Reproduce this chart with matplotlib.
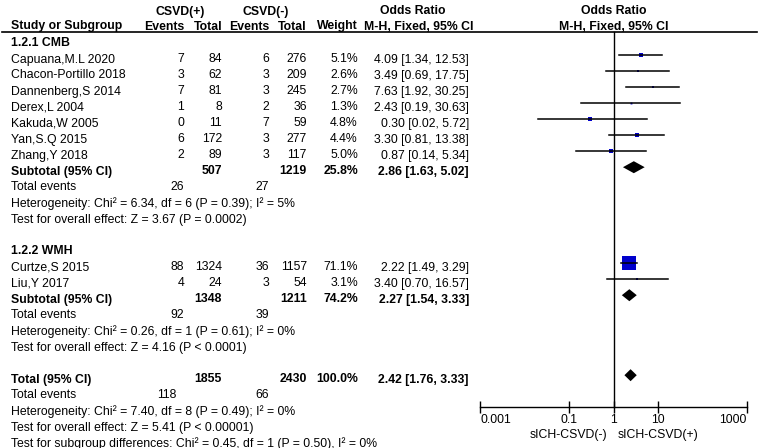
import matplotlib.pyplot as plt
from matplotlib.ticker import NullLocator

plt.rcParams['font.family'] = ['Liberation Sans', 'DejaVu Sans']

# study level data
group_names = ["1.2.1 CMB", "1.2.2 WMH"]

cmb_studies = ["Capuana,M.L 2020", "Chacon-Portillo 2018", "Dannenberg,S 2014",
               "Derex,L 2004", "Kakuda,W 2005", "Yan,S.Q 2015", "Zhang,Y 2018"]
cmb_ev_pos = [7, 3, 7, 1, 0, 6, 2]
cmb_tot_pos = [84, 62, 81, 8, 11, 172, 89]
cmb_ev_neg = [6, 3, 3, 2, 7, 3, 3]
cmb_tot_neg = [276, 209, 245, 36, 59, 277, 117]
cmb_weight = [5.1, 2.6, 2.7, 1.3, 4.8, 4.4, 5.0]
cmb_or = [4.09, 3.49, 7.63, 2.43, 0.30, 3.30, 0.87]
cmb_lo = [1.34, 0.69, 1.92, 0.19, 0.02, 0.81, 0.14]
cmb_hi = [12.53, 17.75, 30.25, 30.63, 5.72, 13.38, 5.34]

wmh_studies = ["Curtze,S 2015", "Liu,Y 2017"]
wmh_ev_pos = [88, 4]
wmh_tot_pos = [1324, 24]
wmh_ev_neg = [36, 3]
wmh_tot_neg = [1157, 54]
wmh_weight = [71.1, 3.1]
wmh_or = [2.22, 3.40]
wmh_lo = [1.49, 0.70]
wmh_hi = [3.29, 16.57]

# subtotals
sub_tot_pos = [507, 1348]
sub_tot_neg = [1219, 1211]
sub_weight = [25.8, 74.2]
sub_or = [2.86, 2.27]
sub_lo = [1.63, 1.54]
sub_hi = [5.02, 3.33]
sub_ev_pos = [26, 92]
sub_ev_neg = [27, 39]
sub_het = ["Heterogeneity: Chi\u00b2 = 6.34, df = 6 (P = 0.39); I\u00b2 = 5%",
           "Heterogeneity: Chi\u00b2 = 0.26, df = 1 (P = 0.61); I\u00b2 = 0%"]
sub_z = ["Test for overall effect: Z = 3.67 (P = 0.0002)",
         "Test for overall effect: Z = 4.16 (P < 0.0001)"]

# overall
total_pos = 1855
total_neg = 2430
total_weight = 100.0
total_or, total_lo, total_hi = 2.42, 1.76, 3.33
total_ev_pos, total_ev_neg = 118, 66
total_het = "Heterogeneity: Chi\u00b2 = 7.40, df = 8 (P = 0.49); I\u00b2 = 0%"
total_z = "Test for overall effect: Z = 5.41 (P < 0.00001)"
subgroup_diff = "Test for subgroup differences: Chi\u00b2 = 0.45, df = 1 (P = 0.50), I\u00b2 = 0%"

ticks = [0.001, 0.1, 1, 10, 1000]
tick_labels = ["0.001", "0.1", "1", "10", "1000"]
favours = ["sICH-CSVD(-)", "sICH-CSVD(+)"]

groups = [
    (cmb_studies, cmb_ev_pos, cmb_tot_pos, cmb_ev_neg, cmb_tot_neg, cmb_weight, cmb_or, cmb_lo, cmb_hi),
    (wmh_studies, wmh_ev_pos, wmh_tot_pos, wmh_ev_neg, wmh_tot_neg, wmh_weight, wmh_or, wmh_lo, wmh_hi),
]

FS = 8.8
BLUE = "#0000cc"
# right edges of the numeric columns (pixels)
X_NAME, X_EV1, X_TOT1, X_EV2, X_TOT2, X_W, X_CI = 11, 184, 222, 269, 307, 358, 469

fig = plt.figure(figsize=(7.58, 4.48), dpi=100)
ax = fig.add_axes([0, 0, 1, 1])
ax.set_xlim(0, 758)
ax.set_ylim(448, 0)
ax.axis("off")

fx = fig.add_axes([480 / 758, 0, 267 / 758, 1])
fx.set_xscale("log")
fx.set_xlim(0.001, 1000)
fx.set_ylim(448, 0)
fx.patch.set_visible(False)
for s in ["top", "left", "right"]:
    fx.spines[s].set_visible(False)
fx.spines["bottom"].set_position(("data", 407))
fx.spines["bottom"].set_linewidth(1)
fx.set_yticks([])
fx.set_xticks(ticks, tick_labels)
fx.xaxis.set_minor_locator(NullLocator())
fx.tick_params(axis="x", direction="inout", length=8, width=1, pad=1, labelsize=FS)
tl = fx.get_xticklabels()
tl[0].set_ha("left")
tl[-1].set_ha("right")


def base(i):
    return 14.5 + 16 * i


def mid(i):
    return 7.2 + 16 * i


def txt(x, i, s, ha="left", bold=False):
    ax.text(x, base(i), s, ha=ha, va="baseline", fontsize=FS,
            fontweight="bold" if bold else "normal")


def diamond(i, o, lo, hi):
    y = mid(i)
    fx.fill([lo, o, hi, o], [y, y - 6, y, y + 6], color="black", lw=0, zorder=3)


def ci_text(o, lo, hi):
    return f"{o:.2f} [{lo:.2f}, {hi:.2f}]"


# header
ax.text(180, base(0), "CSVD(+)", ha="center", va="baseline", fontsize=FS, fontweight="bold")
ax.text(266, base(0), "CSVD(-)", ha="center", va="baseline", fontsize=FS, fontweight="bold")
ax.text(413, base(0), "Odds Ratio", ha="center", va="baseline", fontsize=FS, fontweight="bold")
fx.text(1, base(0), "Odds Ratio", ha="center", va="baseline", fontsize=FS, fontweight="bold")
hy = 29.5
ax.text(X_NAME, hy, "Study or Subgroup", va="baseline", fontsize=FS, fontweight="bold")
for x, s in [(X_EV1, "Events"), (X_TOT1, "Total"), (X_EV2, "Events"),
             (X_TOT2, "Total"), (X_W, "Weight")]:
    ax.text(x, hy, s, ha="right", va="baseline", fontsize=FS, fontweight="bold")
ax.text(419, hy, "M-H, Fixed, 95% CI", ha="center", va="baseline", fontsize=FS, fontweight="bold")
fx.text(1, hy, "M-H, Fixed, 95% CI", ha="center", va="baseline", fontsize=FS, fontweight="bold")
ax.plot([2, 757], [32, 32], color="black", lw=1.2)

row = 2
for g, (names, ep, tp, en, tn, w, o, lo, hi) in enumerate(groups):
    txt(X_NAME, row, group_names[g], bold=True)
    row += 1
    for k in range(len(names)):
        txt(X_NAME, row, names[k])
        txt(X_EV1, row, str(ep[k]), "right")
        txt(X_TOT1, row, str(tp[k]), "right")
        txt(X_EV2, row, str(en[k]), "right")
        txt(X_TOT2, row, str(tn[k]), "right")
        txt(X_W, row, f"{w[k]:.1f}%", "right")
        txt(X_CI, row, ci_text(o[k], lo[k], hi[k]), "right")
        side = 1.66 * w[k] ** 0.5 * 0.72
        fx.plot(o[k], mid(row), marker="s", ms=side, color=BLUE, mew=0, zorder=3)
        fx.plot([lo[k], hi[k]], [mid(row)] * 2, color="black", lw=1.1, zorder=4)
        row += 1
    txt(X_NAME, row, "Subtotal (95% CI)", bold=True)
    txt(X_TOT1, row, str(sub_tot_pos[g]), "right", True)
    txt(X_TOT2, row, str(sub_tot_neg[g]), "right", True)
    txt(X_W, row, f"{sub_weight[g]:.1f}%", "right", True)
    txt(X_CI, row, ci_text(sub_or[g], sub_lo[g], sub_hi[g]), "right", True)
    diamond(row, sub_or[g], sub_lo[g], sub_hi[g])
    row += 1
    txt(X_NAME, row, "Total events")
    txt(X_EV1, row, str(sub_ev_pos[g]), "right")
    txt(X_EV2, row, str(sub_ev_neg[g]), "right")
    row += 1
    txt(X_NAME, row, sub_het[g])
    row += 1
    txt(X_NAME, row, sub_z[g])
    row += 2

txt(X_NAME, row, "Total (95% CI)", bold=True)
txt(X_TOT1, row, str(total_pos), "right", True)
txt(X_TOT2, row, str(total_neg), "right", True)
txt(X_W, row, f"{total_weight:.1f}%", "right", True)
txt(X_CI, row, ci_text(total_or, total_lo, total_hi), "right", True)
diamond(row, total_or, total_lo, total_hi)
row += 1
txt(X_NAME, row, "Total events")
txt(X_EV1 - 8, row, str(total_ev_pos), "right")
txt(X_EV2, row, str(total_ev_neg), "right")
row += 1
txt(X_NAME, row, total_het)
row += 1
txt(X_NAME, row, total_z)
row += 1
txt(X_NAME, row, subgroup_diff)

# line of no effect
fx.plot([1, 1], [32, 407], color="black", lw=1, zorder=2)
ax.text(607, 435, favours[0], ha="right", va="center", fontsize=FS)
ax.text(618, 435, favours[1], ha="left", va="center", fontsize=FS)

fig.savefig("out.png", dpi=100)
